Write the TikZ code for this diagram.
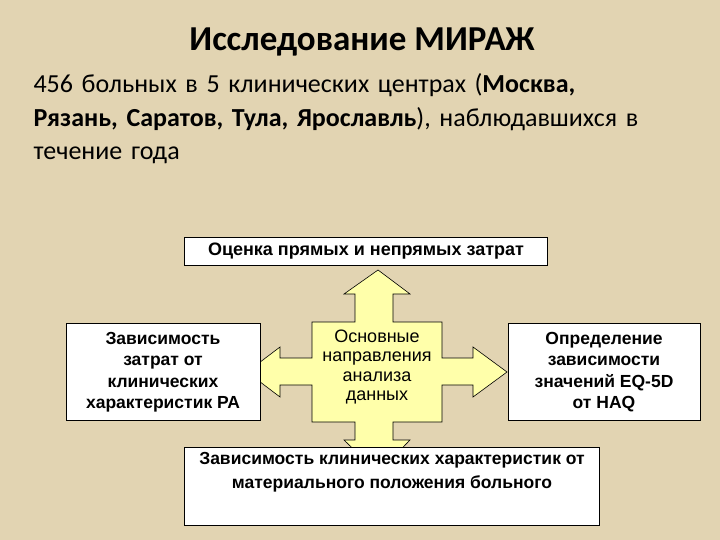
\documentclass[tikz,border=0pt]{standalone}
\usepackage{fontspec}
\setmainfont{Carlito}
\newfontfamily\boxfont{Liberation Sans}
\definecolor{parch}{RGB}{226,212,178}
\definecolor{arrowy}{RGB}{255,255,170}
\tikzset{
  wbox/.style={draw=black, fill=white, line width=0.8pt, inner sep=1pt, align=center, font=\boxfont\bfseries\fontsize{17.5}{21.5}\selectfont},
}
\begin{document}
\begin{tikzpicture}[x=1pt,y=-1pt]
\fill[parch] (0,0) rectangle (720,540);
\useasboundingbox (0,0) rectangle (720,540);
\node[font=\bfseries\fontsize{35}{40}\selectfont] (title) at (362,42) {Исследование МИРАЖ};
\node[anchor=north west, align=left, text width=680pt, font=\fontsize{26}{33.5}\selectfont] (body) at (30,70)
 {\raggedright 456 больных в 5 клинических центрах (\textbf{Москва,}\\\textbf{Рязань, Саратов, Тула, Ярославль}), наблюдавшихся в\\течение года};
% cross arrow
\draw[fill=arrowy, line width=0.6pt]
 (378,270) -- (410,294) -- (393,294) -- (393,322) -- (442,322) -- (442,358) -- (473,358) -- (473,347) -- (507,372)
 -- (473,397) -- (473,385) -- (442,385) -- (442,422) -- (393,422) -- (393,440) -- (410,440) -- (378,473)
 -- (344,440) -- (355,440) -- (355,422) -- (312,422) -- (312,385) -- (280,385) -- (280,397) -- (247,372)
 -- (280,347) -- (280,358) -- (312,358) -- (312,322) -- (355,322) -- (355,294) -- (344,294) -- cycle;
\node[align=center, font=\boxfont\fontsize{18}{19.5}\selectfont] (center) at (377,367) {Основные\\направления\\анализа\\данных};
\node[wbox, minimum width=363pt, minimum height=28pt, font=\boxfont\bfseries\fontsize{18}{20}\selectfont] (top) at (366,251) {Оценка прямых и непрямых затрат};
\node[wbox, minimum width=194pt, minimum height=97pt] (left) at (163,372) {Зависимость\\затрат от\\клинических\\характеристик РА};
\node[wbox, minimum width=192pt, minimum height=97pt] (right) at (604,372) {Определение\\зависимости\\значений EQ-5D\\от HAQ};
\node[wbox, minimum width=415pt, minimum height=78pt, font=\boxfont\bfseries\fontsize{17.5}{24}\selectfont] (bottom) at (392,486) {Зависимость клинических характеристик от\\материального положения больного\\[8pt]};
\end{tikzpicture}
\end{document}
